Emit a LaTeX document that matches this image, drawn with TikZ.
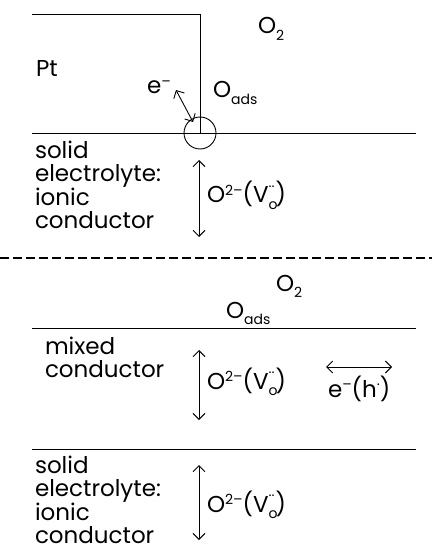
\documentclass[tikz,border=0pt]{standalone}
\usepackage{fontspec}
\setmainfont{Poppins}
\usetikzlibrary{arrows.meta}
\newcommand{\sups}[1]{\raisebox{0.6ex}{\fontsize{14}{14}\selectfont #1}}
\newcommand{\subs}[1]{\raisebox{-0.5ex}{\fontsize{14}{14}\selectfont #1}}
\newcommand{\Vac}[1]{V\rlap{\subs{o}}\raisebox{0.9ex}{\fontsize{14}{14}\selectfont #1}\kern1pt}
\begin{document}
\begin{tikzpicture}[x=1pt,y=-1pt,
  every node/.style={inner sep=0pt,outer sep=0pt},
  txt/.style={font=\fontsize{23}{23}\selectfont,align=left,anchor=base west},
  thin line/.style={line width=0.9pt},
  dbl/.style={line width=0.9pt,{Straight Barb[length=6pt,width=12pt]}-{Straight Barb[length=6pt,width=12pt]}}]
\useasboundingbox (0,0) rectangle (432,553);
% top section
\coordinate (ptl) at (32,14);
\coordinate (ptc) at (200,14);
\coordinate (s1l) at (32,133);
\coordinate (s1c) at (200,133);
\coordinate (s1r) at (416,133);
\draw[thin line] (ptl) -- (ptc) -- (s1c);
\draw[thin line] (s1l) -- (s1r);
\node[thin line,draw,circle,minimum size=32pt] (tpb) at (s1c) {};
\node[txt] (pt) at (36,77) {Pt};
\node[txt] (o2a) at (258,34) {O\subs{2}};
\node[txt] (em) at (147,94) {e\sups{--}};
\node[txt] (oadsa) at (213,98) {O\subs{ads}};
\coordinate (ea1) at (176,90);
\coordinate (ea2) at (193,122);
\draw[dbl] (ea1) -- (ea2);
\node[txt,anchor=north west] (se1) at (35,141) {solid\\electrolyte:\\ionic\\conductor};
\coordinate (a1t) at (199,160);
\coordinate (a1b) at (199,237);
\draw[dbl] (a1t) -- (a1b);
\node[txt] (ion1) at (207,203) {O\sups{2--}(\Vac{··})};
% dashed separator
\coordinate (dl) at (0,258);
\coordinate (dr) at (432,258);
\draw[line width=1.3pt,dash pattern=on 9pt off 4pt] (dl) -- (dr);
% lower section
\node[txt] (o2b) at (276,291) {O\subs{2}};
\node[txt] (oadsb) at (226,318) {O\subs{ads}};
\coordinate (s2l) at (32,328);
\coordinate (s2r) at (416,328);
\draw[thin line] (s2l) -- (s2r);
\node[txt,anchor=north west] (mc) at (45,337) {mixed\\conductor};
\coordinate (a2t) at (199,350);
\coordinate (a2b) at (199,420);
\draw[dbl] (a2t) -- (a2b);
\node[txt] (ion2) at (207,389) {O\sups{2--}(\Vac{··})};
\coordinate (ha1) at (326,367);
\coordinate (ha2) at (392,367);
\draw[dbl] (ha1) -- (ha2);
\node[txt] (eh) at (328,397) {e\sups{--}(h\sups{·})};
\coordinate (s3l) at (32,449);
\coordinate (s3r) at (416,449);
\draw[thin line] (s3l) -- (s3r);
\node[txt,anchor=north west] (se2) at (35,456) {solid\\electrolyte:\\ionic\\conductor};
\coordinate (a3t) at (199,465);
\coordinate (a3b) at (199,540);
\draw[dbl] (a3t) -- (a3b);
\node[txt] (ion3) at (207,512) {O\sups{2--}(\Vac{··})};
\end{tikzpicture}
\end{document}
